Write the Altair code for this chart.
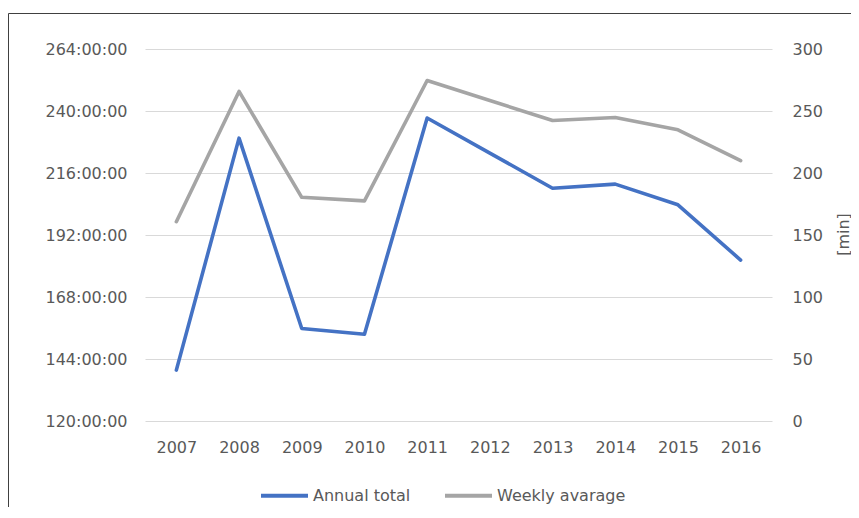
import altair as alt
import pandas as pd

years = [2007, 2008, 2009, 2010, 2011, 2012, 2013, 2014, 2015, 2016]
annual_total_hours = [139.7, 229.5, 155.8, 153.6, 237.3, 223.7, 210.1, 211.7, 203.7, 182.3]
weekly_average_min = [160.7, 265.8, 180.4, 177.5, 274.6, 258.5, 242.3, 244.7, 234.8, 210.0]
series_names = ["Annual total", "Weekly avarage"]
series_colors = ["#4472C4", "#A5A5A5"]
left_ticks = [120, 144, 168, 192, 216, 240, 264]
right_ticks = [0, 50, 100, 150, 200, 250, 300]

FONT = "DejaVu Sans"
FS = 16
TXT = "#595959"

df_a = pd.DataFrame({"year": [str(y) for y in years], "value": annual_total_hours, "series": series_names[0]})
df_w = pd.DataFrame({"year": [str(y) for y in years], "value": weekly_average_min, "series": series_names[1]})

color = alt.Color(
    "series:N",
    scale=alt.Scale(domain=series_names, range=series_colors),
    legend=alt.Legend(
        title=None, orient="none", legendX=114, legendY=421, direction="horizontal",
        symbolType="stroke", symbolSize=2209, symbolStrokeWidth=4,
        labelFont=FONT, labelFontSize=FS, labelColor=TXT,
        columnPadding=26, labelOffset=3, padding=0,
    ),
)

x = alt.X(
    "year:O",
    scale=alt.Scale(type="point", padding=0.5),
    axis=alt.Axis(title=None, labelAngle=0, ticks=False, domain=False, grid=False, labelPadding=18),
)

line_props = dict(strokeWidth=3.6, strokeCap="round", strokeJoin="round")

annual = alt.Chart(df_a).mark_line(**line_props).encode(
    x=x,
    y=alt.Y(
        "value:Q",
        scale=alt.Scale(domain=[120, 264], nice=False, zero=False),
        axis=alt.Axis(
            orient="left", values=left_ticks, labelExpr="datum.value + ':00:00'",
            title=None, grid=True, gridColor="#D9D9D9", gridWidth=1,
            domain=False, ticks=False, labelPadding=18,
        ),
    ),
    color=color,
)

weekly = alt.Chart(df_w).mark_line(**line_props).encode(
    x=x,
    y=alt.Y(
        "value:Q",
        scale=alt.Scale(domain=[0, 300], nice=False),
        axis=alt.Axis(
            orient="right", values=right_ticks, title="[min]", grid=False,
            domain=False, ticks=False, labelPadding=20,
            titleAngle=270, titleX=71, titleY=185, titleAlign="center",
            titleBaseline="middle", titleFont=FONT, titleFontSize=FS,
            titleFontWeight="normal", titleColor=TXT,
        ),
    ),
    color=color,
)

frame_df = pd.DataFrame({"k": [0]})
frame_top = alt.Chart(frame_df).mark_rule(color="#404040", strokeWidth=1).encode(
    x=alt.value(-136.5), x2=alt.value(706), y=alt.value(-35.5)
)
frame_left = alt.Chart(frame_df).mark_rule(color="#404040", strokeWidth=1).encode(
    x=alt.value(-136.5), y=alt.value(-35.5), y2=alt.value(470)
)

chart = (
    alt.layer(annual, weekly, frame_top, frame_left)
    .resolve_scale(y="independent")
    .properties(
        width=627, height=372,
        padding={"left": 137, "top": 41, "right": 79, "bottom": 86},
        autosize=alt.AutoSizeParams(type="none"),
    )
    .configure_axis(labelFont=FONT, labelFontSize=FS, labelColor=TXT)
    .configure_view(stroke=None)
)

chart.save("out.html", embed_options={"renderer": "svg", "actions": False})
